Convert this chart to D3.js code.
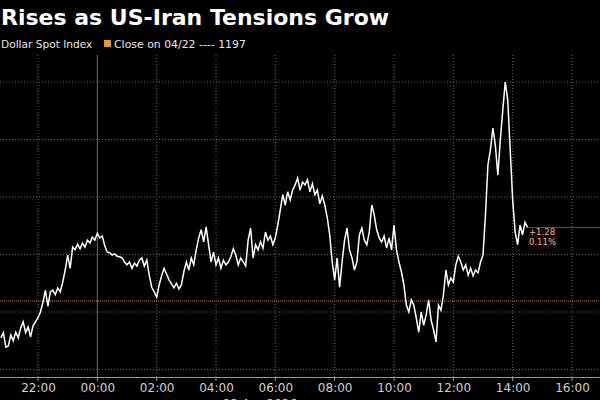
<!DOCTYPE html>
<html><head><meta charset="utf-8">
<script src="https://cdn.jsdelivr.net/npm/d3@7"></script>
<style>html,body{margin:0;padding:0;background:#000;overflow:hidden}svg{display:block}</style>
</head><body>
<svg id="c" width="600" height="400"></svg>
<script>
// ---- data ----
const titleText = "Rises as US-Iran Tensions Grow";
const seriesName = "Dollar Spot Index";
const closeLabel = "Close on 04/22 ---- 1197";
const closeValue = 1197.19;
const changeLabels = ["+1.28", "0.11%"];
const startTime = new Date(2026, 3, 21, 20, 45); // first observation
const stepMinutes = 5;
const values = [
  1196.55, 1196.64, 1196.39,
  1196.41, 1196.60, 1196.50, 1196.65, 1196.55, 1196.72, 1196.83, 1196.64, 1196.74, 1196.57, 1196.76, 1196.83,
  1196.90, 1197.00, 1197.17, 1197.38, 1197.10, 1197.35, 1197.38, 1197.30, 1197.42, 1197.35, 1197.52, 1197.73,
  1197.99, 1197.76, 1198.13, 1198.08, 1198.18, 1198.10, 1198.20, 1198.13, 1198.25, 1198.20, 1198.30, 1198.25,
  1198.37, 1198.29, 1198.32, 1198.15, 1198.04, 1198.03, 1197.99, 1198.01, 1197.97, 1197.96, 1197.94, 1197.87,
  1197.82, 1197.87, 1197.76, 1197.85, 1197.80, 1197.90, 1197.94, 1197.80, 1197.90, 1197.64, 1197.43, 1197.35,
  1197.26, 1197.47, 1197.63, 1197.76, 1197.66, 1197.56, 1197.49, 1197.42, 1197.50, 1197.40, 1197.47, 1197.70,
  1197.87, 1197.73, 1197.94, 1197.82, 1198.08, 1198.29, 1198.43, 1198.22, 1198.48, 1198.17, 1197.87, 1198.04,
  1197.82, 1197.94, 1197.76, 1197.90, 1197.82, 1197.87, 1197.96, 1198.10, 1197.99, 1197.82, 1197.94, 1197.87,
  1197.80, 1198.25, 1198.46, 1197.94, 1198.17, 1198.08, 1198.22, 1198.11, 1198.39, 1198.25, 1198.32, 1198.17,
  1198.29, 1198.51, 1198.77, 1199.04, 1198.86, 1199.09, 1198.95, 1199.12, 1199.21, 1199.33, 1199.12, 1199.26,
  1199.21, 1199.30, 1199.09, 1199.23, 1199.04, 1199.12, 1198.88, 1199.02, 1198.86, 1198.64, 1198.34, 1197.87,
  1197.56, 1197.94, 1197.43, 1197.87, 1198.25, 1198.46, 1198.08, 1197.94, 1197.73, 1197.87, 1198.34, 1198.46,
  1198.25, 1198.17, 1198.39, 1198.86, 1198.69, 1198.43, 1198.29, 1198.22, 1198.32, 1198.11, 1198.29, 1198.08,
  1198.51, 1198.08, 1197.87, 1197.70, 1197.47, 1197.12, 1197.00, 1197.21, 1197.12, 1196.90, 1196.65, 1197.00,
  1196.77, 1196.95, 1197.21, 1196.86, 1196.69, 1196.48, 1197.12, 1197.03, 1197.30, 1197.73, 1197.47, 1197.59,
  1197.52, 1197.82, 1197.97, 1197.87, 1197.73, 1197.82, 1197.64, 1197.76, 1197.63, 1197.73, 1197.68, 1197.87,
  1197.99, 1198.69, 1199.56, 1199.82, 1200.20, 1199.90, 1199.38, 1199.99, 1200.51, 1201.00, 1200.69, 1199.82,
  1198.95, 1198.39, 1198.17, 1198.51, 1198.34, 1198.56, 1198.47
];
const yGridValues = [1196, 1197, 1198, 1199, 1200, 1201];
const xDomain = [new Date(2026, 3, 21, 22, 0), new Date(2026, 3, 22, 16, 0)];
const dateSeparator = new Date(2026, 3, 22, 0, 0);
const dateLabel = "22 Apr 2026";

// ---- chart ----
const svg = d3.select("#c");
const W = 600, H = 400;
const plotTop = 55, plotBottom = 377;
const x = d3.scaleTime().domain(xDomain).range([38, 572]);
const y = d3.scaleLinear().domain([1196, 1201]).range([369.5, 82]);
const data = values.map((v, i) => ({t: d3.timeMinute.offset(startTime, i * stepMinutes), v}));

svg.append("rect").attr("width", W).attr("height", H).attr("fill", "#000");

// title & legend
svg.append("text").attr("x", 1).attr("y", 25).attr("fill", "#fff")
  .attr("font-family", "DejaVu Sans").attr("font-weight", "bold").attr("font-size", 22)
  .text(titleText);
svg.append("text").attr("x", 1).attr("y", 48).attr("fill", "#e6e6e6")
  .attr("font-family", "DejaVu Sans").attr("font-size", 10.6).text(seriesName);
svg.append("rect").attr("x", 104).attr("y", 40).attr("width", 7).attr("height", 7).attr("fill", "#e8952f");
svg.append("text").attr("x", 114).attr("y", 48).attr("fill", "#e6e6e6")
  .attr("font-family", "DejaVu Sans").attr("font-size", 10.9).text(closeLabel);

// grid
const xTicks = d3.timeHour.every(2).range(d3.timeHour.offset(xDomain[0], -2), d3.timeHour.offset(xDomain[1], 2));
svg.append("g").selectAll("line").data(yGridValues).join("line")
  .attr("x1", 0).attr("x2", W).attr("y1", d => y(d)).attr("y2", d => y(d))
  .attr("stroke", "#666").attr("stroke-width", 1).attr("stroke-dasharray", "1,2");
svg.append("g").selectAll("line").data(xTicks.filter(d => +d !== +dateSeparator)).join("line")
  .attr("x1", d => x(d)).attr("x2", d => x(d)).attr("y1", plotTop).attr("y2", plotBottom)
  .attr("stroke", "#666").attr("stroke-width", 1).attr("stroke-dasharray", "1,2");
svg.append("line").attr("x1", x(dateSeparator)).attr("x2", x(dateSeparator))
  .attr("y1", plotTop).attr("y2", plotBottom).attr("stroke", "#6a6a6a").attr("stroke-width", 1);

// close line
svg.append("line").attr("x1", 0).attr("x2", W).attr("y1", y(closeValue)).attr("y2", y(closeValue))
  .attr("stroke", "#d9823a").attr("stroke-width", 1).attr("stroke-dasharray", "1,1");

// axis
const axis = d3.axisBottom(x).ticks(d3.timeHour.every(2)).tickFormat(d3.timeFormat("%H:%M")).tickSize(0).tickPadding(6);
const gAxis = svg.append("g").attr("transform", `translate(0,${plotBottom})`).call(axis);
gAxis.select(".domain").remove();
gAxis.selectAll("text").attr("fill", "#d0d0d0").attr("font-family", "DejaVu Sans").attr("font-size", 12);
svg.append("line").attr("x1", 0).attr("x2", W).attr("y1", plotBottom + 0.5).attr("y2", plotBottom + 0.5)
  .attr("stroke", "#9a9a9a").attr("stroke-width", 1);
const minorTicks = d3.timeHour.every(2).range(d3.timeHour.offset(xDomain[0], -1), d3.timeHour.offset(xDomain[1], 1));
svg.append("g").selectAll("line").data(minorTicks).join("line")
  .attr("x1", d => x(d)).attr("x2", d => x(d)).attr("y1", plotBottom + 1).attr("y2", plotBottom + 4)
  .attr("stroke", "#9a9a9a");
svg.append("text").attr("x", 260).attr("y", 408).attr("text-anchor", "middle").attr("fill", "#d0d0d0")
  .attr("font-family", "DejaVu Sans").attr("font-size", 12).text(dateLabel);

// last value marker
const last = data[data.length - 1];
svg.append("line").attr("x1", x(last.t)).attr("x2", W).attr("y1", y(last.v)).attr("y2", y(last.v))
  .attr("stroke", "#7a4638").attr("stroke-width", 1);
svg.append("rect").attr("x", x(last.t) + 1).attr("y", y(last.v) + 1.5).attr("width", 28).attr("height", 20)
  .attr("fill", "#140a07");
svg.append("text").attr("x", x(last.t) + 1.5).attr("y", y(last.v) + 8).attr("fill", "#e8a890")
  .attr("font-family", "DejaVu Sans").attr("font-size", 8.5).text(changeLabels[0]);
svg.append("text").attr("x", x(last.t) + 1.5).attr("y", y(last.v) + 18).attr("fill", "#e8a890")
  .attr("font-family", "DejaVu Sans").attr("font-size", 8.5).text(changeLabels[1]);

// price line
svg.append("path").datum(data).attr("fill", "none").attr("stroke", "#fff").attr("stroke-width", 1.5)
  .attr("stroke-linejoin", "miter")
  .attr("d", d3.line().x(d => x(d.t)).y(d => y(d.v)));
</script>
</body></html>
